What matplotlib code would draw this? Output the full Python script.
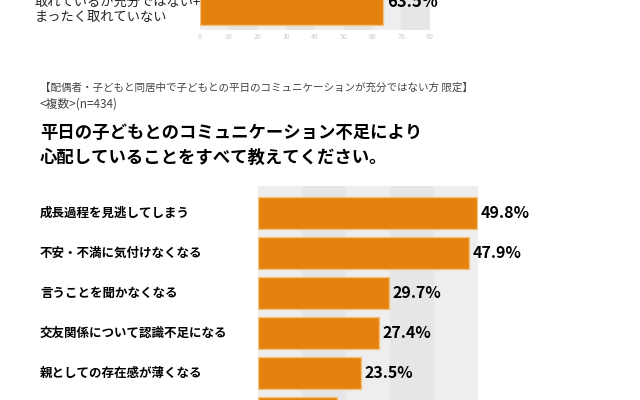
import matplotlib.pyplot as plt

plt.rcParams["font.family"] = "Noto Sans CJK JP"

# 上のグラフ（一部のみ表示）
top_value = 63.5
top_ticks = [0, 10, 20, 30, 40, 50, 60, 70, 80]

# 下のグラフ
categories = ["成長過程を見逃してしまう", "不安・不満に気付けなくなる", "言うことを聞かなくなる",
              "交友関係について認識不足になる", "親としての存在感が薄くなる", ""]
values = [49.8, 47.9, 29.7, 27.4, 23.5, 18.0]

ORANGE = "#e5820f"
W, H = 640, 400

fig = plt.figure(figsize=(6.4, 4.0), dpi=100)

def px_axes(x0, y0, x1, y1):
    return fig.add_axes([x0 / W, 1 - y1 / H, (x1 - x0) / W, (y1 - y0) / H])

# --- top chart ---
ax1 = px_axes(200, -10, 430, 30)
ax1.set_xlim(0, 80)
ax1.set_ylim(0, 1)
for i, t in enumerate(top_ticks[:-1]):
    ax1.axvspan(t, t + 10, color="#e6e6e6" if i % 2 else "#eeeeee", zorder=0)
ax1.barh([0.5], [top_value], height=0.75, color=ORANGE, edgecolor="#f3c07a", zorder=2)
ax1.text(top_value + 1.5, 0.7, f"{top_value}%", fontsize=12, fontweight="bold", va="center")
ax1.set_xticks(top_ticks)
ax1.tick_params(axis="x", length=0, labelsize=5, labelcolor="#cccccc", pad=2)
ax1.set_yticks([])
for s in ax1.spines.values():
    s.set_visible(False)
fig.text(35 / W, 1 - 2 / H, "取れているが充分ではない+", fontsize=9.5, va="center", color="#222")
fig.text(35 / W, 1 - 18 / H, "まったく取れていない", fontsize=9.5, va="center", color="#222")

# --- headings ---
fig.text(40 / W, 1 - 88 / H, "【配偶者・子どもと同居中で子どもとの平日のコミュニケーションが充分ではない方 限定】",
         fontsize=7.6, va="center", color="#444")
fig.text(40 / W, 1 - 104 / H, "<複数>(n=434)", fontsize=8.5, va="center", color="#444")
fig.text(40 / W, 1 - 133 / H, "平日の子どもとのコミュニケーション不足により", fontsize=12.5,
         fontweight="bold", va="center")
fig.text(40 / W, 1 - 158 / H, "心配していることをすべて教えてください。", fontsize=12.5,
         fontweight="bold", va="center")

# --- bottom chart ---
ax2 = px_axes(258, 186, 478, 400)
ax2.set_xlim(0, 50)
ax2.set_ylim(4.675, -0.675)
for i in range(5):
    ax2.axvspan(i * 10, i * 10 + 10, color="#e6e6e6" if i % 2 else "#eeeeee", zorder=0)
ypos = list(range(len(values)))
ax2.barh(ypos, values, height=0.8, color=ORANGE, edgecolor="#f3c07a", zorder=2)
for y, v, c in zip(ypos, values, categories):
    if y < 5:
        ax2.text(v + 0.8, y, f"{v}%", fontsize=11.5, fontweight="bold", va="center", clip_on=False)
    fig.text(40 / W, 1 - (213 + 40 * y) / H, c, fontsize=9, fontweight="bold", va="center")
ax2.set_xticks([])
ax2.set_yticks([])
for s in ax2.spines.values():
    s.set_visible(False)

fig.savefig("out.png", dpi=100)
